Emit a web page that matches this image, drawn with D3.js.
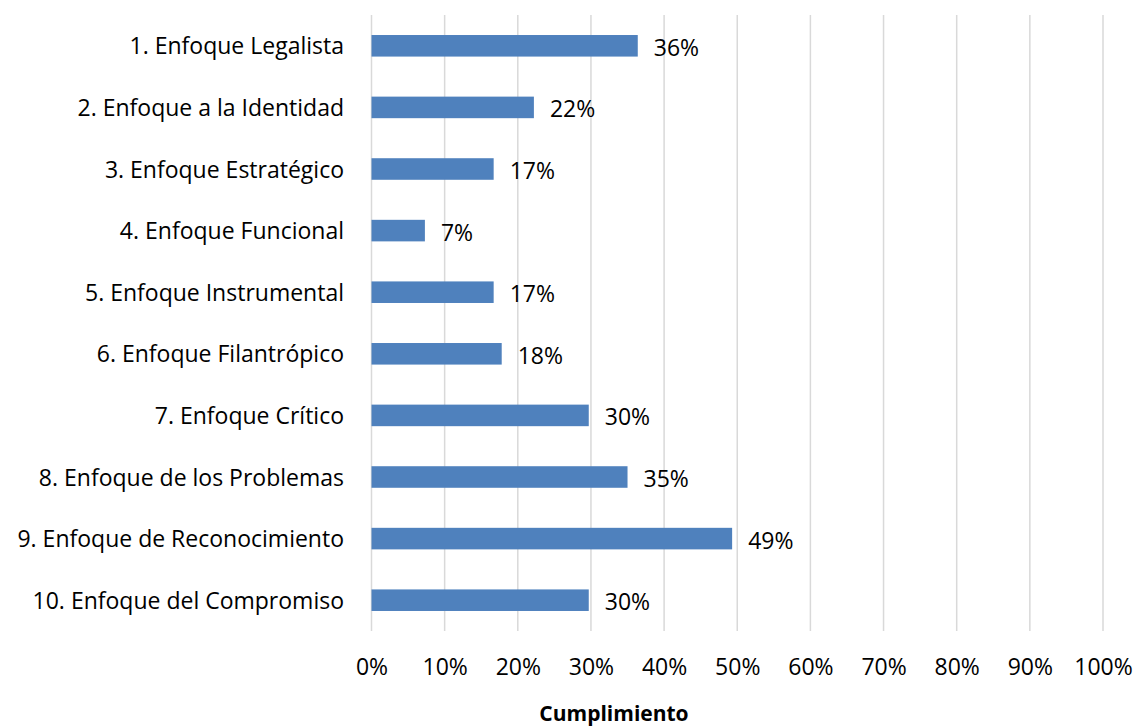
<!DOCTYPE html>
<html>
<head>
<meta charset="utf-8">
<script src="https://cdn.jsdelivr.net/npm/d3@7"></script>
<style>
  body { margin: 0; background: #fff; }
  text { font-family: "Open Sans", sans-serif; fill: #000; }
</style>
</head>
<body>
<div id="chart"></div>
<script>
// data
var categories = [
    "1. Enfoque Legalista",
    "2. Enfoque a la Identidad",
    "3. Enfoque Estratégico",
    "4. Enfoque Funcional",
    "5. Enfoque Instrumental",
    "6. Enfoque Filantrópico",
    "7. Enfoque Crítico",
    "8. Enfoque de los Problemas",
    "9. Enfoque de Reconocimiento",
    "10. Enfoque del Compromiso"
];
var values = [0.364, 0.222, 0.167, 0.073, 0.167, 0.178, 0.297, 0.350, 0.493, 0.297];
var xTicks = [0, 0.1, 0.2, 0.3, 0.4, 0.5, 0.6, 0.7, 0.8, 0.9, 1.0];
var axisTitle = "Cumplimiento";

var W = 1137, H = 727;
var margin = { top: 15, right: 34, bottom: 96, left: 371.5 };
var width = W - margin.left - margin.right,
    height = H - margin.top - margin.bottom;

var svg = d3.select("#chart")
    .append("svg")
    .attr("width", W)
    .attr("height", H)
    .append("g")
    .attr("transform", "translate(" + margin.left + "," + margin.top + ")");

var data = categories.map(function (c, i) { return { name: c, value: values[i] }; });

var x = d3.scaleLinear().domain([0, 1]).range([0, width]);
var y = d3.scaleBand()
    .domain(categories)
    .range([0, height])
    .paddingInner(0.65)
    .paddingOuter(0.325);

// gridlines
svg.selectAll(".grid")
    .data(xTicks)
    .enter().append("line")
    .attr("class", "grid")
    .attr("x1", function (d) { return x(d); })
    .attr("x2", function (d) { return x(d); })
    .attr("y1", 0)
    .attr("y2", height)
    .style("stroke", "#d9d9d9")
    .style("stroke-width", 1.5);

// x axis (labels only)
var xAxis = svg.append("g")
    .attr("transform", "translate(0," + height + ")")
    .call(d3.axisBottom(x).tickValues(xTicks).tickFormat(d3.format(".0%")).tickSize(0));
xAxis.select(".domain").remove();
xAxis.selectAll("text")
    .attr("y", 675 - margin.top - height)
    .attr("dy", 0)
    .style("font-size", "23px")
    .style("font-family", "'Open Sans', sans-serif");

// y axis (labels only)
var yAxis = svg.append("g")
    .call(d3.axisLeft(y).tickSize(0));
yAxis.select(".domain").remove();
yAxis.selectAll("text")
    .attr("x", 344 - margin.left)
    .attr("dy", 8.5)
    .style("font-size", "23px")
    .style("font-family", "'Open Sans', sans-serif");

// bars
svg.selectAll(".bar")
    .data(data)
    .enter().append("rect")
    .attr("class", "bar")
    .attr("x", 0)
    .attr("y", function (d) { return y(d.name); })
    .attr("width", function (d) { return x(d.value); })
    .attr("height", y.bandwidth())
    .style("fill", "#4f81bd");

// value labels
svg.selectAll(".lbl")
    .data(data)
    .enter().append("text")
    .attr("class", "lbl")
    .attr("x", function (d) { return x(d.value) + 16; })
    .attr("y", function (d) { return y(d.name) + y.bandwidth() / 2; })
    .attr("dy", 10)
    .style("font-size", "23px")
    .text(function (d) { return d3.format(".0%")(d.value); });

// axis title
svg.append("text")
    .attr("x", 614 - margin.left)
    .attr("y", 721 - margin.top)
    .attr("text-anchor", "middle")
    .style("font-size", "21px")
    .style("font-weight", "bold")
    .text(axisTitle);
</script>
</body>
</html>
